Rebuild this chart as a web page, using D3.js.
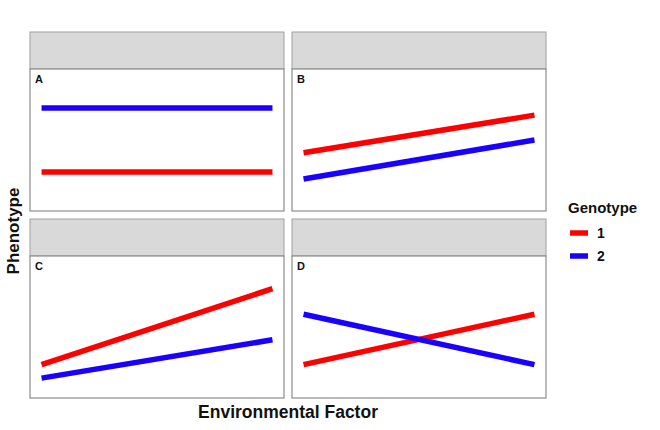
<!DOCTYPE html>
<html>
<head>
<meta charset="utf-8">
<script src="https://cdn.jsdelivr.net/npm/d3@7"></script>
<style>
  body { margin: 0; background: #fff; }
  text { font-family: "Liberation Sans", Arial, sans-serif; }
</style>
</head>
<body>
<div class="chart"></div>
<script>
// data
var panels = ['A', 'B', 'C', 'D']
var genotypes = ['1', '2']
var envLevels = [0, 1]
var genotype1 = [[2.75, 2.75], [4.1, 6.75], [2.35, 7.7], [2.35, 5.9]]
var genotype2 = [[7.25, 7.25], [2.25, 5.0], [1.4, 4.1], [5.9, 2.35]]
var colors = ['#ff0000', '#1a00ff']

var width = 660
var height = 430
var margin = { left: 30, top: 32 }
var panelW = 254, panelH = 142, stripH = 37, gap = 8

var svg = d3.select('.chart')
  .append('svg')
    .attr('width', width)
    .attr('height', height)

var xScale = d3.scaleLinear()
  .domain([-0.05, 1.05])
  .range([0, panelW])

var yScale = d3.scaleLinear()
  .domain([0, 10])
  .range([panelH, 0])

var line = d3.line()
  .x(function (d, i) { return xScale(envLevels[i]) })
  .y(function (d) { return yScale(d) })

panels.forEach(function (name, p) {
  var col = p % 2, row = Math.floor(p / 2)
  var g = svg.append('g')
    .attr('transform', `translate(${margin.left + col * (panelW + gap)}, ${margin.top + row * (stripH + panelH + gap)})`)

  // strip
  g.append('rect')
    .attr('width', panelW)
    .attr('height', stripH)
    .attr('fill', '#d9d9da')
    .attr('stroke', '#a0a0a0')
    .attr('stroke-width', 1)

  var pg = g.append('g').attr('transform', `translate(0, ${stripH})`)
  pg.append('rect')
    .attr('width', panelW)
    .attr('height', panelH)
    .attr('fill', '#fff')
    .attr('stroke', '#8c8c8c')
    .attr('stroke-width', 1.2)

  pg.append('text')
    .attr('x', 5)
    .attr('y', 14)
    .attr('font-size', 11)
    .attr('font-weight', 'bold')
    .attr('fill', '#111')
    .text(name)

  var series = [genotype1[p], genotype2[p]]
  series.forEach(function (vals, s) {
    pg.append('path')
      .attr('d', line(vals))
      .attr('fill', 'none')
      .attr('stroke', colors[s])
      .attr('stroke-width', 5.5)
  })
})

// axis titles
svg.append('text')
  .attr('x', margin.left + panelW + gap / 2)
  .attr('y', 418)
  .attr('text-anchor', 'middle')
  .attr('font-size', 17.5)
  .attr('font-weight', 'bold')
  .attr('fill', '#111')
  .text('Environmental Factor')

svg.append('text')
  .attr('transform', 'translate(19, 231) rotate(-90)')
  .attr('text-anchor', 'middle')
  .attr('font-size', 17)
  .attr('font-weight', 'bold')
  .attr('fill', '#111')
  .text('Phenotype')

// legend
var legend = svg.append('g').attr('transform', 'translate(568, 213)')
legend.append('text')
  .attr('font-size', 15)
  .attr('font-weight', 'bold')
  .attr('fill', '#111')
  .text('Genotype')

genotypes.forEach(function (gname, i) {
  var y = 20 + i * 23
  legend.append('line')
    .attr('x1', 2).attr('x2', 20)
    .attr('y1', y).attr('y2', y)
    .attr('stroke', colors[i])
    .attr('stroke-width', 5.5)
  legend.append('text')
    .attr('x', 29)
    .attr('y', y + 5)
    .attr('font-size', 14)
    .attr('font-weight', 'bold')
    .attr('fill', '#111')
    .text(gname)
})
</script>
</body>
</html>
